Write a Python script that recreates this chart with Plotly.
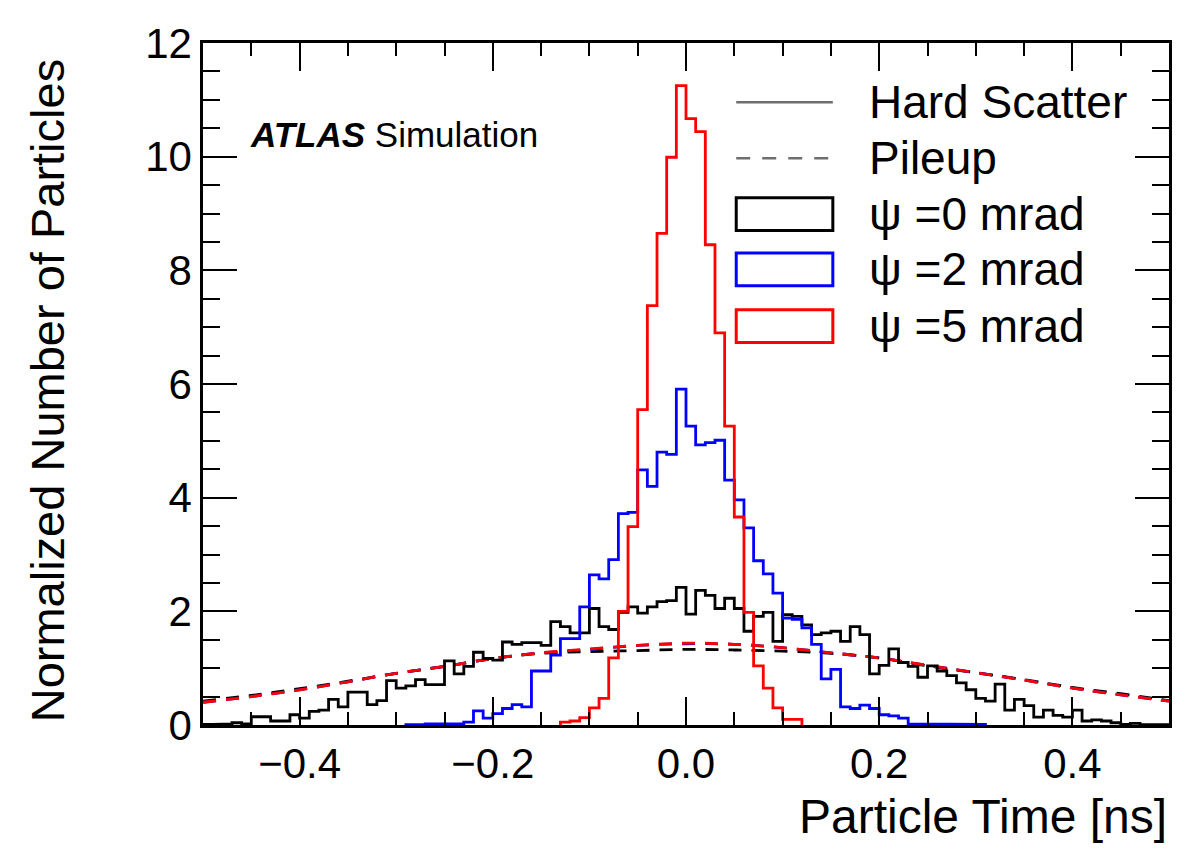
import numpy as np
import plotly.graph_objects as go

# ---------------- data ----------------
BIN_LO = -0.5
BIN_W = 0.01
N_BINS = 100

# Hard-scatter particle time histograms (100 bins, -0.5 .. 0.5 ns)
hs_psi0 = [
    0.01, 0.01, 0.02, 0.04, 0.02, 0.145, 0.145, 0.07, 0.07, 0.18,
    0.12, 0.24, 0.26, 0.45, 0.32, 0.58, 0.58, 0.36, 0.43, 0.78,
    0.65, 0.69, 0.80, 0.71, 0.71, 1.13, 0.90, 1.03, 1.28, 1.17,
    1.14, 1.46, 1.42, 1.45, 1.45, 1.40, 1.82, 1.73, 1.62, 1.62,
    2.05, 1.73, 1.68, 1.98, 2.08, 1.97, 2.08, 2.17, 2.19, 2.42,
    1.95, 2.37, 2.28, 2.05, 2.23, 2.05, 1.65, 1.91, 1.98, 1.47,
    1.94, 1.91, 1.76, 1.59, 1.62, 1.65, 1.47, 1.73, 1.59, 0.90,
    1.05, 1.34, 1.10, 1.03, 0.84, 1.04, 0.95, 0.87, 0.74, 0.62,
    0.47, 0.42, 0.72, 0.26, 0.45, 0.34, 0.14, 0.26, 0.17, 0.14,
    0.26, 0.07, 0.09, 0.07, 0.04, 0.01, 0.03, 0.01, 0.005, 0.005,
]
hs_psi2 = [
    0, 0, 0, 0, 0, 0, 0, 0, 0, 0,
    0, 0, 0, 0, 0, 0, 0, 0, 0, 0,
    0, 0.005, 0.005, 0.02, 0.02, 0.02, 0.02, 0.05, 0.25, 0.12,
    0.20, 0.29, 0.36, 0.32, 0.95, 0.95, 1.23, 1.52, 1.52, 2.08,
    2.64, 2.57, 2.91, 3.72, 3.74, 4.49, 4.20, 4.80, 4.76, 5.91,
    5.26, 4.93, 4.97, 5.01, 4.31, 3.96, 3.47, 2.89, 2.66, 2.32,
    1.88, 1.86, 1.71, 1.42, 0.81, 0.98, 0.32, 0.29, 0.35, 0.29,
    0.18, 0.16, 0.12, 0.02, 0.02, 0.01, 0.01, 0.01, 0.01, 0.01,
    0.01, 0, 0, 0, 0, 0, 0, 0, 0, 0,
    0, 0, 0, 0, 0, 0, 0, 0, 0, 0,
]
hs_psi5 = [
    0, 0, 0, 0, 0, 0, 0, 0, 0, 0,
    0, 0, 0, 0, 0, 0, 0, 0, 0, 0,
    0, 0, 0, 0, 0, 0, 0, 0, 0, 0,
    0, 0, 0, 0, 0, 0, 0, 0.05, 0.07, 0.13,
    0.30, 0.47, 1.18, 2.00, 3.49, 5.55, 7.38, 8.65, 9.99, 11.25,
    10.67, 10.44, 8.45, 6.90, 5.26, 3.66, 1.98, 1.04, 0.65, 0.30,
    0.10, 0.10, 0, 0, 0, 0, 0, 0, 0, 0,
    0, 0, 0, 0, 0, 0, 0, 0, 0, 0,
    0, 0, 0, 0, 0, 0, 0, 0, 0, 0,
    0, 0, 0, 0, 0, 0, 0, 0, 0, 0,
]

# Pileup distributions (read every 0.05 ns)
pu_time = [-0.50, -0.45, -0.40, -0.35, -0.30, -0.25, -0.20, -0.15, -0.10, -0.05,
           0.00, 0.05, 0.10, 0.15, 0.20, 0.25, 0.30, 0.35, 0.40, 0.45, 0.50]
pu_psi0 = [0.42, 0.52, 0.64, 0.77, 0.91, 1.03, 1.17, 1.26, 1.29, 1.31,
           1.33, 1.32, 1.30, 1.26, 1.18, 1.04, 0.92, 0.80, 0.66, 0.55, 0.43]
pu_psi2 = [0.40, 0.50, 0.62, 0.76, 0.91, 1.03, 1.17, 1.27, 1.33, 1.40,
           1.43, 1.42, 1.36, 1.27, 1.18, 1.05, 0.92, 0.79, 0.65, 0.53, 0.42]
pu_psi5 = [0.40, 0.50, 0.62, 0.76, 0.91, 1.03, 1.17, 1.27, 1.34, 1.40,
           1.44, 1.42, 1.36, 1.27, 1.18, 1.05, 0.92, 0.79, 0.65, 0.53, 0.42]

x_tick_vals = [-0.4, -0.2, 0.0, 0.2, 0.4]
y_tick_vals = [0, 2, 4, 6, 8, 10, 12]

legend_labels = ["Hard Scatter", "Pileup", "ψ =0 mrad", "ψ =2 mrad", "ψ =5 mrad"]

# ---------------- styling ----------------
BLACK = "#000000"
BLUE = "#0000ff"
RED = "#ff0000"
GREY = "#6e6e6e"
FONT = "Liberation Sans, Arial, Helvetica, sans-serif"
LW = 2.8


def step_xy(vals):
    vals = np.asarray(vals, dtype=float)
    edges = BIN_LO + BIN_W * np.arange(N_BINS + 1)
    nz = np.nonzero(vals)[0]
    i0, i1 = nz[0], nz[-1]
    xs, ys = [edges[i0]], [0.0]
    for i in range(i0, i1 + 1):
        xs += [edges[i], edges[i + 1]]
        ys += [vals[i], vals[i]]
    xs.append(edges[i1 + 1])
    ys.append(0.0)
    return xs, ys


fig = go.Figure()

dash = "13px,10px"
for vals, col in [(pu_psi0, BLACK), (pu_psi2, BLUE), (pu_psi5, RED)]:
    fig.add_trace(go.Scatter(x=pu_time, y=vals, mode="lines",
                             line=dict(color=col, width=LW, dash=dash, shape="spline"),
                             showlegend=False, hoverinfo="skip"))

for vals, col in [(hs_psi0, BLACK), (hs_psi2, BLUE), (hs_psi5, RED)]:
    xs, ys = step_xy(vals)
    fig.add_trace(go.Scatter(x=xs, y=ys, mode="lines",
                             line=dict(color=col, width=LW),
                             showlegend=False, hoverinfo="skip"))

# ---------------- manual legend ----------------
row_y = [0.913, 0.831, 0.749, 0.668, 0.585]
sx0, sx1 = 0.552, 0.652
box_h = 0.024
shapes = []
shapes.append(dict(type="line", xref="paper", yref="paper", x0=sx0, x1=sx1,
                   y0=row_y[0], y1=row_y[0], line=dict(color=GREY, width=2.5)))
shapes.append(dict(type="line", xref="paper", yref="paper", x0=sx0, x1=sx1,
                   y0=row_y[1], y1=row_y[1], line=dict(color=GREY, width=2.5, dash="14px,12px")))
for yy, col in zip(row_y[2:], [BLACK, BLUE, RED]):
    shapes.append(dict(type="rect", xref="paper", yref="paper", x0=sx0, x1=sx1,
                       y0=yy - box_h, y1=yy + box_h, line=dict(color=col, width=3),
                       fillcolor="rgba(0,0,0,0)"))

annotations = []
for yy, lab in zip(row_y, legend_labels):
    annotations.append(dict(xref="paper", yref="paper", x=0.687, y=yy, text=lab,
                            showarrow=False, xanchor="left", yanchor="middle",
                            font=dict(family=FONT, size=46, color="black")))

annotations.append(dict(xref="paper", yref="paper", x=0.047, y=0.866,
                        text="<b><i>ATLAS</i></b> Simulation", showarrow=False,
                        xanchor="left", yanchor="middle",
                        font=dict(family=FONT, size=35, color="black")))

annotations.append(dict(xref="paper", yref="paper", x=1.0, y=-0.134,
                        text="Particle Time [ns]", showarrow=False,
                        xanchor="right", yanchor="middle",
                        font=dict(family=FONT, size=48, color="black")))
annotations.append(dict(xref="paper", yref="paper", x=-0.161, y=0.49,
                        text="Normalized Number of Particles", showarrow=False,
                        textangle=-90, xanchor="center", yanchor="middle",
                        font=dict(family=FONT, size=47, color="black")))

# page body has an 8px margin: plot area target is x 203..1172, y 33..725
fig.update_layout(
    width=1176, height=843,
    margin=dict(l=195, r=12, t=25, b=126),
    plot_bgcolor="white", paper_bgcolor="white",
    font=dict(family=FONT, color="black"),
    shapes=shapes, annotations=annotations,
    showlegend=False,
)
fig.update_xaxes(
    range=[-0.5, 0.5], tickvals=x_tick_vals, tickformat=".1f",
    ticks="inside", ticklen=28, tickwidth=2, tickcolor="black",
    minor=dict(tick0=0, dtick=0.05, ticks="inside", ticklen=13, tickwidth=2, tickcolor="black"),
    showline=True, linewidth=2.5, linecolor="black", mirror="ticks",
    showgrid=False, zeroline=False,
    tickfont=dict(family=FONT, size=42, color="black"),
)
fig.update_yaxes(
    range=[0, 12], tickvals=y_tick_vals,
    ticks="inside", ticklen=34, tickwidth=2, tickcolor="black",
    minor=dict(tick0=0, dtick=0.5, ticks="inside", ticklen=17, tickwidth=2, tickcolor="black"),
    showline=True, linewidth=2.5, linecolor="black", mirror="ticks",
    showgrid=False, zeroline=False,
    tickfont=dict(family=FONT, size=42, color="black"),
)

fig.write_html("out.html")
